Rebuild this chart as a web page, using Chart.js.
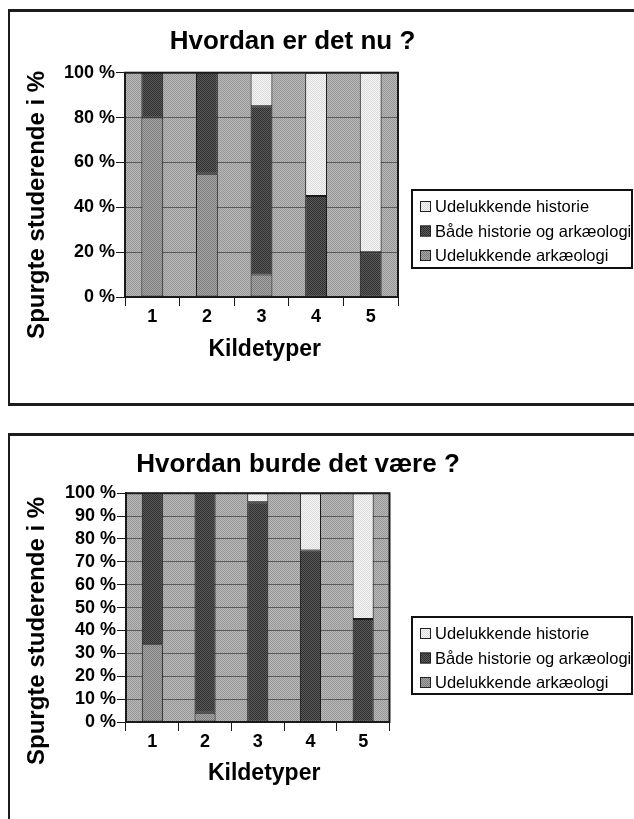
<!DOCTYPE html>
<html lang="da">
<head>
<meta charset="utf-8">
<title>Kildetyper</title>
<script src="https://cdn.jsdelivr.net/npm/chart.js@4.4.6/dist/chart.umd.min.js"></script>
<style>
  html, body { margin: 0; padding: 0; background: #fff; overflow: hidden; }
  body { position: relative; width: 634px; height: 819px; }
  .frame { position: absolute; left: 8px; width: 700px; box-sizing: border-box; border: 3px solid #1c1c1c; border-left-width: 2px; }
  #frameNu { top: 9px; height: 397px; }
  #frameBurde { top: 433px; height: 500px; }
  canvas { position: absolute; left: 0; }
  #chartNu { top: 0; }
  #chartBurde { top: 434px; }
</style>
</head>
<body>
<div class="frame" id="frameNu"></div>
<div class="frame" id="frameBurde"></div>
<canvas id="chartNu" width="634" height="405"></canvas>
<canvas id="chartBurde" width="634" height="385"></canvas>
<script>
const categories = ['1', '2', '3', '4', '5']
const seriesNames = ['Udelukkende arkæologi', 'Både historie og arkæologi', 'Udelukkende historie']

// Hvordan er det nu ?
const nuArkaeologi = [80, 55, 10, 0, 0]
const nuBegge = [20, 45, 75, 45, 20]
const nuHistorie = [0, 0, 15, 55, 80]

// Hvordan burde det være ?
const burdeArkaeologi = [34, 4, 0, 0, 0]
const burdeBegge = [66, 96, 96, 75, 45]
const burdeHistorie = [0, 0, 4, 25, 55]

const nuStep = 20
const burdeStep = 10

Chart.defaults.font.family = '"Liberation Sans", Arial, sans-serif'
Chart.defaults.color = '#000'

// small 2x2 dither so the fills look like the old printed chart
function dither(a, b) {
  const c = document.createElement('canvas')
  c.width = 2
  c.height = 2
  const g = c.getContext('2d')
  g.fillStyle = a
  g.fillRect(0, 0, 2, 2)
  g.fillStyle = b
  g.fillRect(0, 0, 1, 1)
  g.fillRect(1, 1, 1, 1)
  return g.createPattern(c, 'repeat')
}

const plotFill = dither('#b8b8b8', '#989898')
const fills = [
  dither('#a6a6a6', '#7c7c7c'),
  dither('#5c5c5c', '#2e2e2e'),
  dither('#f6f6f6', '#dadada')
]

const plotFrame = {
  id: 'plotFrame',
  beforeDraw(chart, args, opts) {
    const { ctx, chartArea: a } = chart
    ctx.save()
    ctx.fillStyle = opts.fill
    ctx.fillRect(a.left, a.top, a.width, a.height)
    ctx.restore()
  },
  afterDatasetsDraw(chart) {
    const { ctx, chartArea: a } = chart
    ctx.save()
    ctx.strokeStyle = '#1a1a1a'
    ctx.lineWidth = 2
    ctx.strokeRect(a.left, a.top, a.width, a.height)
    ctx.restore()
  }
}

// move the title block so the title sits where the original had it
const titleCenter = {
  id: 'titleCenter',
  afterLayout(chart, args, opts) {
    const t = chart.titleBlock
    if (!t || opts.x == null) return
    const half = (t.right - t.left) / 2
    t.left = opts.x - half
    t.right = opts.x + half
  }
}

// legend in a framed box to the right of the plot
const boxedLegend = {
  id: 'boxedLegend',
  afterDraw(chart, args, opts) {
    const { ctx } = chart
    const { left, top, width, height, firstRow, rowGap } = opts
    ctx.save()
    ctx.fillStyle = '#fff'
    ctx.fillRect(left, top, width, height)
    ctx.strokeStyle = '#111'
    ctx.lineWidth = 2
    ctx.strokeRect(left, top, width, height)
    ctx.font = '16.5px "Liberation Sans", Arial, sans-serif'
    ctx.textBaseline = 'middle'
    chart.data.datasets.slice().reverse().forEach((ds, i) => {
      const y = top + firstRow + i * rowGap
      ctx.fillStyle = ds.backgroundColor
      ctx.fillRect(left + 8, y - 5.5, 11, 11)
      ctx.strokeStyle = '#222'
      ctx.lineWidth = 1
      ctx.strokeRect(left + 8.5, y - 5, 10, 10)
      ctx.fillStyle = '#000'
      ctx.fillText(ds.label, left + 23, y + 1)
    })
    ctx.restore()
  }
}

function makeDatasets(values) {
  return values.map((data, i) => ({
    label: seriesNames[i],
    data,
    backgroundColor: fills[i],
    borderColor: '#1a1a1a',
    borderWidth: 1,
    borderSkipped: false,
    categoryPercentage: 1,
    barPercentage: 0.4
  }))
}

function buildChart(id, cfg) {
  return new Chart(document.getElementById(id), {
    type: 'bar',
    data: { labels: categories, datasets: makeDatasets(cfg.values) },
    plugins: [plotFrame, titleCenter, boxedLegend],
    options: {
      responsive: false,
      animation: false,
      layout: { padding: { left: 0, top: 0, right: cfg.padRight, bottom: 0 } },
      plugins: {
        legend: { display: false },
        tooltip: { enabled: false },
        title: {
          display: true,
          text: cfg.title,
          color: '#000',
          font: { size: 26, weight: 'bold' },
          padding: cfg.titlePad
        },
        titleCenter: { x: cfg.titleX },
        plotFrame: { fill: plotFill },
        boxedLegend: cfg.legend
      },
      scales: {
        x: {
          stacked: true,
          grid: { offset: true, drawOnChartArea: false, tickLength: 9, tickColor: '#1a1a1a' },
          border: { color: '#1a1a1a', width: 2 },
          ticks: { font: { size: 18, weight: 'bold' }, color: '#000', padding: 0, maxRotation: 0 },
          title: {
            display: true,
            text: '\u00a0'.repeat(cfg.xSpaces) + 'Kildetyper',
            color: '#000',
            font: { size: 23, weight: 'bold' },
            padding: { top: 0, bottom: cfg.xTitlePad }
          },
          afterFit(scale) { scale.height = cfg.xHeight }
        },
        y: {
          stacked: true,
          min: 0,
          max: 100,
          grid: { color: '#5a5a5a', lineWidth: 1, tickLength: 9, tickColor: '#1a1a1a' },
          border: { color: '#1a1a1a', width: 2 },
          ticks: {
            stepSize: cfg.step,
            autoSkip: false,
            padding: 1,
            color: '#000',
            font: { size: 18, weight: 'bold' },
            callback: (v) => v + ' %'
          },
          title: {
            display: true,
            text: 'Spurgte studerende i %' + '\u00a0'.repeat(cfg.ySpaces),
            color: '#000',
            font: { size: 24, weight: 'bold' },
            padding: { top: 22.6, bottom: 0 }
          },
          afterFit(scale) { scale.width = cfg.yWidth }
        }
      }
    }
  })
}

buildChart('chartNu', {
  title: 'Hvordan er det nu ?',
  values: [nuArkaeologi, nuBegge, nuHistorie],
  step: nuStep,
  padRight: 236,
  yWidth: 125,
  xHeight: 108,
  xTitlePad: 42,
  xSpaces: 1,
  titlePad: { top: 26, bottom: 15.5 },
  titleX: 292.5,
  ySpaces: 6,
  legend: { left: 412, top: 190, width: 220, height: 78, firstRow: 16.5, rowGap: 24.5 }
})

buildChart('chartBurde', {
  title: 'Hvordan burde det være ?',
  values: [burdeArkaeologi, burdeBegge, burdeHistorie],
  step: burdeStep,
  padRight: 244.5,
  yWidth: 126,
  xHeight: 97,
  xTitlePad: 32,
  xSpaces: 2,
  titlePad: { top: 15, bottom: 13 },
  titleX: 298,
  ySpaces: 7,
  legend: { left: 412, top: 183, width: 220, height: 77, firstRow: 16.5, rowGap: 24.5 }
})
</script>
</body>
</html>
